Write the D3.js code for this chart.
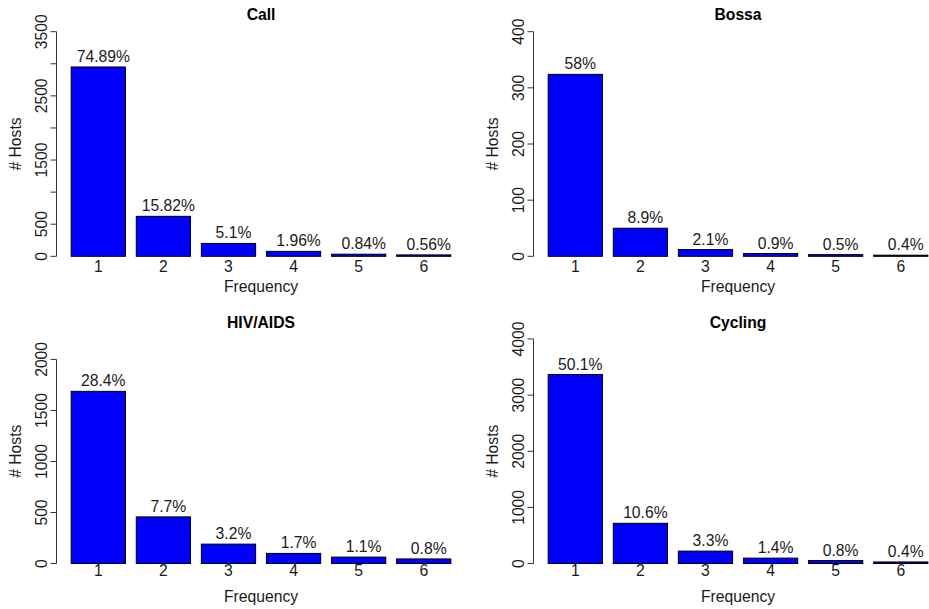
<!DOCTYPE html>
<html>
<head>
<meta charset="utf-8">
<script src="https://cdn.jsdelivr.net/npm/d3@7"></script>
<style>
  body { margin: 0; background: #fff; }
  svg { display: block; font-family: "Liberation Sans", Arial, Helvetica, sans-serif; }
</style>
</head>
<body>
<svg width="929" height="609"></svg>
<script>
// Frequency bars, one panel per dataset
var categories = ["1", "2", "3", "4", "5", "6"];

var callHosts = [2950, 623, 201, 77, 33, 22];
var callPct = ["74.89%", "15.82%", "5.1%", "1.96%", "0.84%", "0.56%"];
var callTicks = [0, 500, 1000, 1500, 2000, 2500, 3000, 3500];
var callTickLabels = [0, 500, 1500, 2500, 3500];

var bossaHosts = [324, 50, 12, 5, 3, 2];
var bossaPct = ["58%", "8.9%", "2.1%", "0.9%", "0.5%", "0.4%"];
var bossaTicks = [0, 100, 200, 300, 400];

var hivHosts = [1687, 457, 190, 99, 63, 45];
var hivPct = ["28.4%", "7.7%", "3.2%", "1.7%", "1.1%", "0.8%"];
var hivTicks = [0, 500, 1000, 1500, 2000];

var cyclingHosts = [3367, 716, 221, 96, 53, 28];
var cyclingPct = ["50.1%", "10.6%", "3.3%", "1.4%", "0.8%", "0.4%"];
var cyclingTicks = [0, 1000, 2000, 3000, 4000];

var svg = d3.select("svg"),
    fs = 15.7;

// panel table built from the arrays above
var panels = [
  {title: "Call", hosts: callHosts, pct: callPct, ymax: 3500, ticks: callTicks, labels: callTickLabels, col: 0, row: 0},
  {title: "Bossa", hosts: bossaHosts, pct: bossaPct, ymax: 400, ticks: bossaTicks, labels: bossaTicks, col: 1, row: 0},
  {title: "HIV/AIDS", hosts: hivHosts, pct: hivPct, ymax: 2200, ticks: hivTicks, labels: hivTicks, col: 0, row: 1},
  {title: "Cycling", hosts: cyclingHosts, pct: cyclingPct, ymax: 4000, ticks: cyclingTicks, labels: cyclingTicks, col: 1, row: 1}
];

// plot regions (R style: bars of width 1, space 0.2, 4% padding)
var colLeft = [56, 533],
    unit = 54.24,
    rows = [
      {top: 22.7, bottom: 265.3, title: 19.5, names: 271.7, xlab: 291.5},
      {top: 330, bottom: 572.5, title: 328, names: 576, xlab: 602.2}
    ];

panels.forEach(function(p) {
  var r = rows[p.row],
      left = colLeft[p.col],
      right = left + 7.56 * unit;

  var x = d3.scaleLinear()
      .domain([-0.08, 7.48])
      .range([left, right]);

  var y = d3.scaleLinear()
      .domain([-0.04 * p.ymax, 1.04 * p.ymax])
      .range([r.bottom, r.top]);

  var g = svg.append("g");

  // bars
  g.selectAll("rect")
      .data(p.hosts)
      .enter().append("rect")
      .attr("x", function(d, i) { return x(0.2 + i * 1.2); })
      .attr("width", x(1) - x(0))
      .attr("y", function(d) { return y(d); })
      .attr("height", function(d) { return y(0) - y(d); })
      .attr("fill", "#0000ff")
      .attr("stroke", "#000")
      .attr("stroke-width", 1);

  // percentage labels above bars
  g.selectAll("text.pct")
      .data(p.hosts)
      .enter().append("text")
      .attr("class", "pct")
      .attr("x", function(d, i) { return x(0.7 + i * 1.2) + 5; })
      .attr("y", function(d) { return y(d) - 5; })
      .attr("text-anchor", "middle")
      .attr("font-size", fs)
      .attr("fill", "#1a1a1a")
      .text(function(d, i) { return p.pct[i]; });

  // bar names
  g.selectAll("text.name")
      .data(categories)
      .enter().append("text")
      .attr("class", "name")
      .attr("x", function(d, i) { return x(0.7 + i * 1.2); })
      .attr("y", r.names)
      .attr("text-anchor", "middle")
      .attr("font-size", fs)
      .attr("fill", "#1a1a1a")
      .text(function(d) { return d; });

  // y axis
  var ax = left + 0.5;
  g.append("line")
      .attr("x1", ax).attr("x2", ax)
      .attr("y1", y(0)).attr("y2", y(d3.max(p.ticks)))
      .attr("stroke", "#333");

  g.selectAll("line.tick")
      .data(p.ticks)
      .enter().append("line")
      .attr("class", "tick")
      .attr("x1", ax - 6).attr("x2", ax)
      .attr("y1", function(d) { return y(d); })
      .attr("y2", function(d) { return y(d); })
      .attr("stroke", "#333");

  g.selectAll("text.ylab")
      .data(p.labels)
      .enter().append("text")
      .attr("class", "ylab")
      .attr("transform", function(d) { return "translate(" + (ax - 10) + "," + y(d) + ") rotate(-90)"; })
      .attr("text-anchor", "middle")
      .attr("font-size", fs)
      .attr("fill", "#1a1a1a")
      .text(function(d) { return d; });

  // titles
  var cx = (left + right) / 2;
  g.append("text")
      .attr("x", cx)
      .attr("y", r.title)
      .attr("text-anchor", "middle")
      .attr("font-size", fs)
      .attr("font-weight", "bold")
      .text(p.title);

  g.append("text")
      .attr("x", cx)
      .attr("y", r.xlab)
      .attr("text-anchor", "middle")
      .attr("font-size", fs)
      .attr("fill", "#1a1a1a")
      .text("Frequency");

  g.append("text")
      .attr("transform", "translate(" + (ax - 36) + "," + ((r.top + r.bottom) / 2) + ") rotate(-90)")
      .attr("text-anchor", "middle")
      .attr("font-size", fs)
      .attr("fill", "#1a1a1a")
      .text("# Hosts");
});
</script>
</body>
</html>
